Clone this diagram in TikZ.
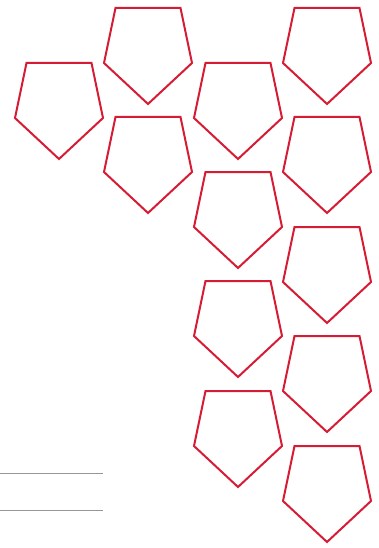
\documentclass[tikz,border=0pt]{standalone}
\usetikzlibrary{positioning}
\definecolor{shieldred}{RGB}{214,28,52}
\definecolor{rulegray}{RGB}{150,150,150}
\begin{document}
\begin{tikzpicture}[
    x=1pt, y=-1pt,
    shield/.style={draw=shieldred, line width=2pt, line join=miter},
    rule/.style={draw=rulegray, line width=1pt}
  ]
    \useasboundingbox (0,0) rectangle (379,548);
    % Schilde (Mitte x / Oberkante y)
    \foreach \cx/\ty in {148/8, 327/8, 59/63, 238/63, 148/117, 327/117,
                         238/172, 327/227, 238/281, 327/336, 238/391, 327/446}
      \draw[shield] (\cx-32.5,\ty) -- (\cx+32.5,\ty) -- (\cx+44,\ty+55)
                    -- (\cx,\ty+96) -- (\cx-44,\ty+55) -- cycle;
    % Linien links unten
    \draw[rule] (0,473.3) -- (103.3,473.3);
    \draw[rule] (0,510.7) -- (103.3,510.7);
  \end{tikzpicture}
\end{document}
